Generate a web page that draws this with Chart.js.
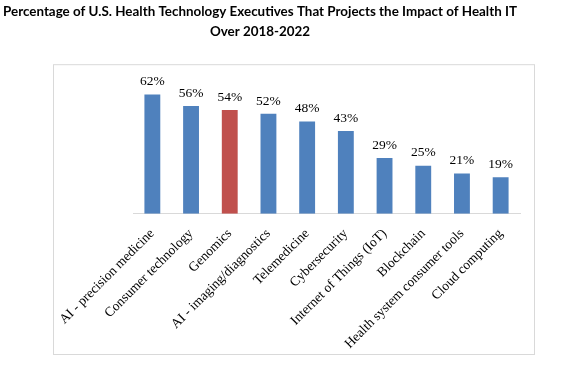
<!DOCTYPE html>
<html>
<head>
<meta charset="utf-8">
<script src="https://cdn.jsdelivr.net/npm/chart.js@4.4.0/dist/chart.umd.min.js"></script>
<style>
  body { margin: 0; background: #fff; }
  canvas { display: block; }
</style>
</head>
<body>
<canvas id="chart" width="588" height="370"></canvas>
<script>
var categories = [
    'AI - precision medicine',
    'Consumer technology',
    'Genomics',
    'AI - imaging/diagnostics',
    'Telemedicine',
    'Cybersecurity',
    'Internet of Things (IoT)',
    'Blockchain',
    'Health system consumer tools',
    'Cloud computing'
];
var percents = [62, 56, 54, 52, 48, 43, 29, 25, 21, 19];
var highlight = 'Genomics';

var blue = '#4F81BD';
var red = '#C0504D';
var barColors = categories.map(function(c) { return c === highlight ? red : blue; });

// light grey frame round the plot, like the office chart
var framePlugin = {
    id: 'frame',
    beforeDraw: function(chart) {
        var a = chart.chartArea;
        var ctx = chart.ctx;
        ctx.save();
        ctx.strokeStyle = '#D9D9D9';
        ctx.lineWidth = 1;
        ctx.strokeRect(a.left - 80 + 0.5, a.top - 15 + 0.5, (a.right + 14) - (a.left - 80), (chart.height - 16) - (a.top - 15));
        ctx.restore();
    }
};

// value labels above the bars
var valueLabels = {
    id: 'valueLabels',
    afterDatasetsDraw: function(chart) {
        var ctx = chart.ctx;
        var meta = chart.getDatasetMeta(0);
        ctx.save();
        ctx.font = '13.5px "Liberation Serif"';
        ctx.fillStyle = '#000';
        ctx.textAlign = 'center';
        ctx.textBaseline = 'bottom';
        meta.data.forEach(function(bar, i) {
            ctx.fillText(percents[i] + '%', bar.x, bar.y - 6);
        });
        ctx.restore();
    }
};

var ctx = document.getElementById('chart').getContext('2d');
var chart = new Chart(ctx, {
    type: 'bar',
    data: {
        labels: categories,
        datasets: [{
            data: percents,
            backgroundColor: barColors,
            barPercentage: 0.82,
            categoryPercentage: 0.5
        }]
    },
    options: {
        responsive: false,
        animation: false,
        layout: { padding: { left: 0, right: 68, top: 0, bottom: 14 } },
        plugins: {
            legend: { display: false },
            tooltip: { enabled: false },
            title: {
                display: true,
                text: ['Percentage of U.S. Health Technology Executives That Projects the Impact of Health IT', 'Over 2018-2022'],
                color: '#000',
                font: { family: 'Lato', size: 13.4, weight: 'bold', lineHeight: 1.5 },
                padding: { top: 2, bottom: 37 }
            }
        },
        scales: {
            x: {
                grid: { display: false },
                border: { color: '#D9D9D9' },
                ticks: {
                    color: '#000',
                    font: { family: 'Liberation Serif', size: 13.5 },
                    minRotation: 45,
                    maxRotation: 45,
                    autoSkip: false,
                    padding: 4
                }
            },
            y: {
                min: 0,
                max: 70,
                grid: { display: false },
                border: { display: false },
                ticks: { display: false },
                afterFit: function(scale) { scale.width = 133; }
            }
        }
    },
    plugins: [framePlugin, valueLabels]
});
</script>
</body>
</html>
